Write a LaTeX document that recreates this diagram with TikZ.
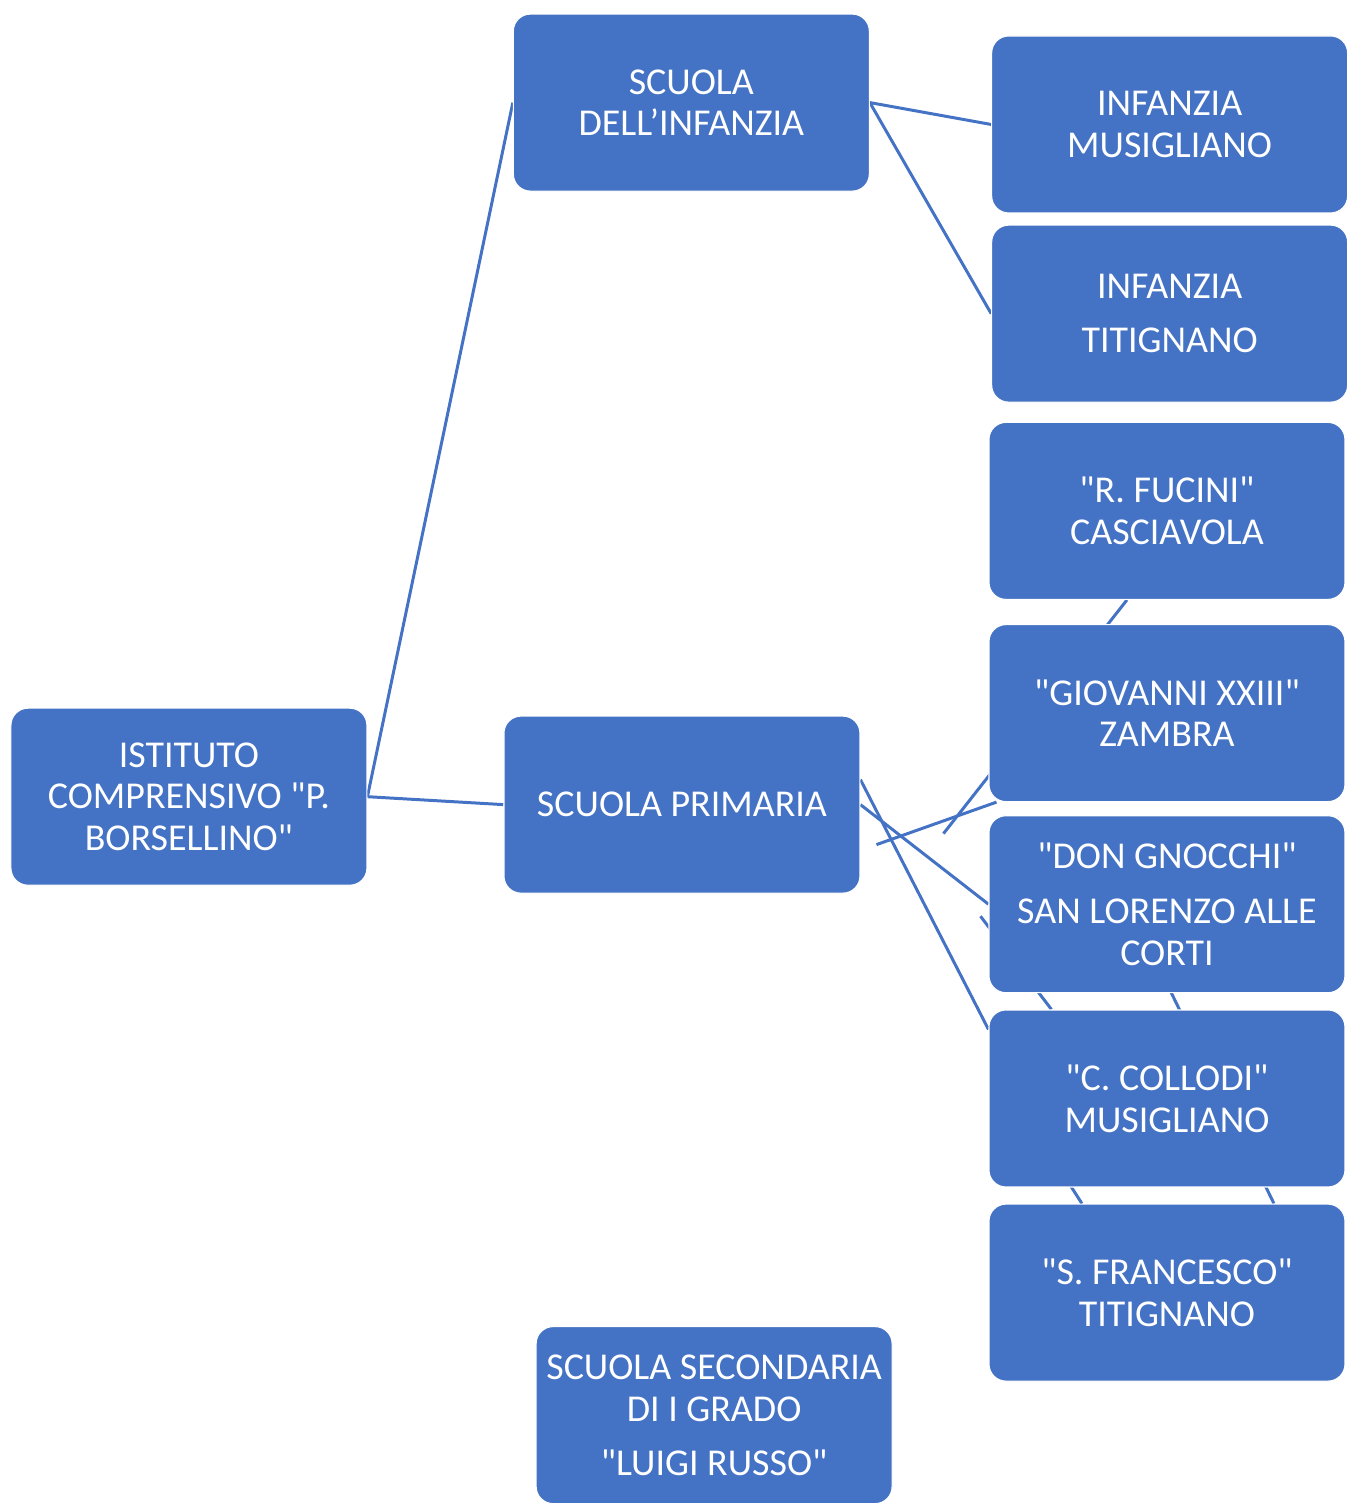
\documentclass[tikz,border=0pt]{standalone}
\usepackage{fontspec}
\setmainfont{Carlito}[Ligatures=TeXOff]
\usetikzlibrary{backgrounds}
\definecolor{smartblue}{HTML}{4472C4}

\begin{document}
\begin{tikzpicture}[x=0.02cm,y=-0.02cm,
    box/.style={fill=smartblue,draw=white,line width=0.6pt,rounded corners=0.34cm,
      minimum width=7.12cm,minimum height=3.54cm,inner sep=2pt,
      text=white,align=center,font=\fontsize{21.6}{23.8}\selectfont},
    link/.style={draw=smartblue,line width=1.7pt}]
    \node at (1346,0) (width) {};
    \node at (0,1504) (height) {};

    \path (0,0) --
    node[pos=0.141] (Istxpos) {}
    node[pos=0.516] (SInxpos) {}
    node[pos=0.509] (SPrxpos) {}
    node[pos=0.533] (SSexpos) {}
    node[pos=0.873] (Infxpos) {}
    node[pos=0.871] (Prixpos) {}
    (width);

    \path (0,0) --
    node[pos=0.0685] (SInypos) {}
    node[pos=0.0831] (IMuypos) {}
    node[pos=0.2094] (ITiypos) {}
    node[pos=0.3411] (RFuypos) {}
    node[pos=0.4761] (GZaypos) {}
    node[pos=0.5319] (Istypos) {}
    node[pos=0.5372] (SPrypos) {}
    node[pos=0.6037] (DGnypos) {}
    node[pos=0.7334] (CCoypos) {}
    node[pos=0.8630] (SFrypos) {}
    node[pos=0.9448] (SSeypos) {}
    (height);

    \node[box] at (Istxpos |- Istypos) (Ist) {ISTITUTO\\COMPRENSIVO "P.\\BORSELLINO"};
    \node[box] at (SInxpos |- SInypos) (SIn) {SCUOLA\\DELL’INFANZIA};
    \node[box] at (SPrxpos |- SPrypos) (SPr) {SCUOLA PRIMARIA};
    \node[box] at (SSexpos |- SSeypos) (SSe) {SCUOLA SECONDARIA\\DI I GRADO\\[0.24cm]"LUIGI RUSSO"};
    \node[box] at (Infxpos |- IMuypos) (IMu) {INFANZIA\\MUSIGLIANO};
    \node[box] at (Infxpos |- ITiypos) (ITi) {INFANZIA\\[0.24cm]TITIGNANO};
    \node[box] at (Prixpos |- RFuypos) (RFu) {"R. FUCINI"\\CASCIAVOLA};
    \node[box] at (Prixpos |- GZaypos) (GZa) {"GIOVANNI XXIII"\\ZAMBRA};
    \node[box] at (Prixpos |- DGnypos) (DGn) {"DON GNOCCHI"\\[0.26cm]SAN LORENZO ALLE\\CORTI};
    \node[box] at (Prixpos |- CCoypos) (CCo) {"C. COLLODI"\\MUSIGLIANO};
    \node[box] at (Prixpos |- SFrypos) (SFr) {"S. FRANCESCO"\\TITIGNANO};

    \begin{scope}[on background layer]
    \draw[link] (Ist.east) -- (SIn.west);
    \draw[link] (Ist.east) -- (SPr.west);
    \draw[link] (SIn.east) -- (IMu.west);
    \draw[link] (SIn.east) -- (ITi.west);
    \draw[link] ([shift={(83,29)}]SPr.east) -- ([shift={(-40,0)}]RFu.south);
    \draw[link] ([shift={(16,40)}]SPr.east) -- ([shift={(8,0)}]GZa.south west);
    \draw[link] (SPr.east) -- (DGn.west);
    \draw[link] ([shift={(0,-25)}]SPr.east) -- ([shift={(0,20)}]CCo.north west);
    \draw[link] ([shift={(-8,12)}]DGn.west) -- ([shift={(63,0)}]CCo.north west);
    \draw[link] ([shift={(-33,12)}]DGn.center) -- ([shift={(107,0)}]SFr.north);
    \draw[link] ([shift={(5,-33)}]CCo.west) -- ([shift={(-85,0)}]SFr.north);
    \end{scope}

    \pgfresetboundingbox
    \useasboundingbox (0,0) rectangle (1346,1504);
  \end{tikzpicture}
\end{document}
